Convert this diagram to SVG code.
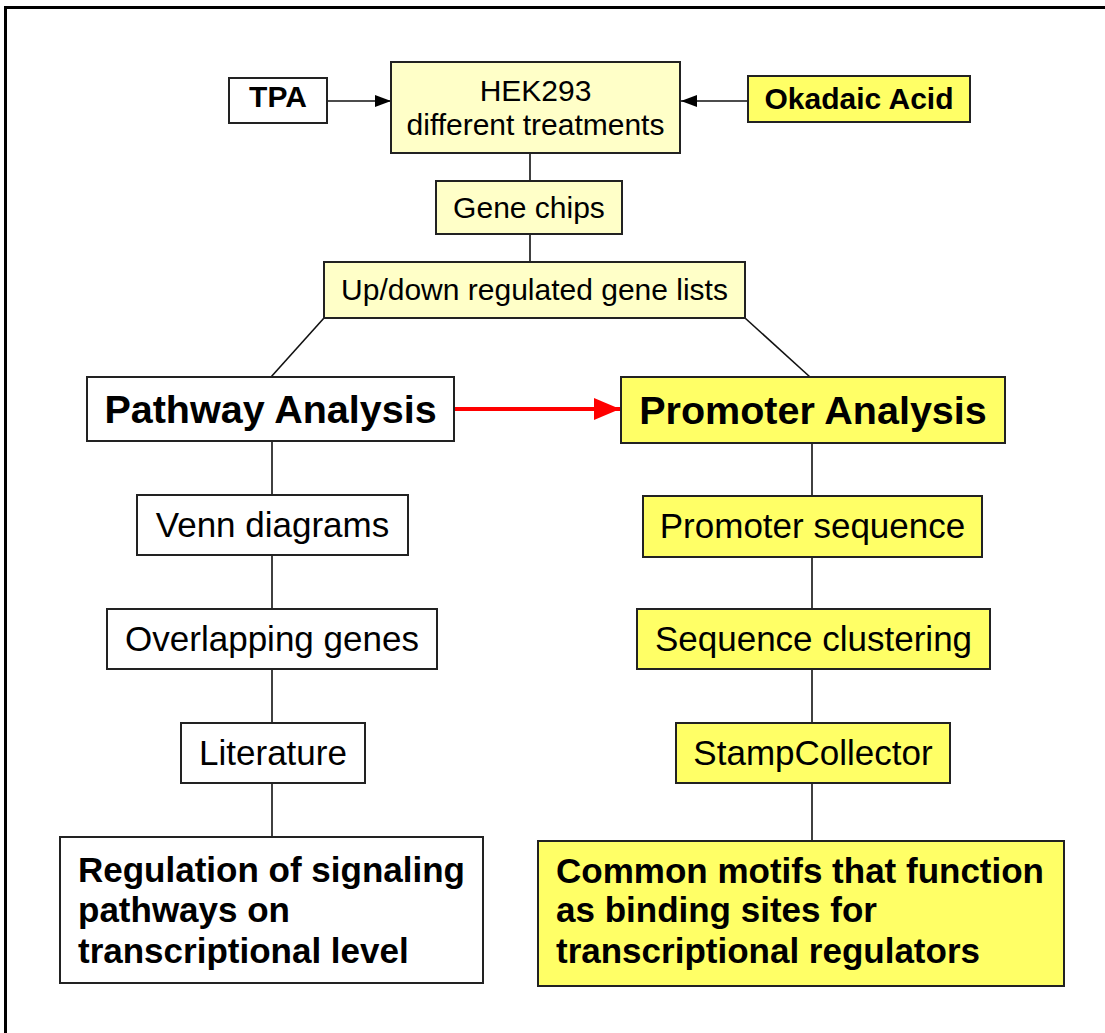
<svg xmlns="http://www.w3.org/2000/svg" width="1105" height="1033" viewBox="0 0 1105 1033">
<defs>
<style>
.box{stroke:#222;stroke-width:2}
.white{fill:#fff}
.pale{fill:#ffffc8}
.yel{fill:#ffff66}
.t{font-family:"Liberation Sans",Arial,sans-serif;fill:#000;text-anchor:middle}
.reg{font-size:30px}
.mid{font-size:35px}
.b{font-weight:bold}
.big{font-size:39.5px;font-weight:bold}
.lt{font-family:"Liberation Sans",Arial,sans-serif;fill:#000;font-size:35px;font-weight:bold}
.ln{stroke:#111;stroke-width:1.6;fill:none}
</style>
<marker id="ah" viewBox="0 0 16 12" refX="16" refY="6" markerWidth="16" markerHeight="12" markerUnits="userSpaceOnUse" orient="auto">
<path d="M0,0 L16,6 L0,12 z" fill="#000"/>
</marker>
<marker id="ahr" viewBox="0 0 26 22" refX="26" refY="11" markerWidth="26" markerHeight="22" markerUnits="userSpaceOnUse" orient="auto">
<path d="M0,0 L26,11 L0,22 z" fill="#f00"/>
</marker>
</defs>
<rect width="1105" height="1033" fill="#fff"/>
<g id="frame">
<line x1="4" y1="7.5" x2="1105" y2="7.5" stroke="#000" stroke-width="3"/>
<line x1="5.5" y1="6" x2="5.5" y2="1033" stroke="#000" stroke-width="3"/>
</g>
<g id="connectors">
<line class="ln" x1="327" y1="101" x2="391" y2="101" marker-end="url(#ah)"/>
<line class="ln" x1="748" y1="101" x2="681" y2="101" marker-end="url(#ah)"/>
<line class="ln" x1="530" y1="153" x2="530" y2="181"/>
<line class="ln" x1="530" y1="234" x2="530" y2="262"/>
<line class="ln" x1="324" y1="318" x2="271" y2="377"/>
<line class="ln" x1="745" y1="318" x2="810" y2="377"/>
<line x1="454" y1="409" x2="620" y2="409" stroke="#f00" stroke-width="4" marker-end="url(#ahr)"/>
<line class="ln" x1="272" y1="441" x2="272" y2="495"/>
<line class="ln" x1="272" y1="555" x2="272" y2="609"/>
<line class="ln" x1="272" y1="669" x2="272" y2="723"/>
<line class="ln" x1="272" y1="783" x2="272" y2="837"/>
<line class="ln" x1="812" y1="443" x2="812" y2="496"/>
<line class="ln" x1="812" y1="557" x2="812" y2="609"/>
<line class="ln" x1="812" y1="669" x2="812" y2="723"/>
<line class="ln" x1="812" y1="783" x2="812" y2="841"/>
</g>
<g id="tpa">
<rect class="box white" x="229" y="78" width="98" height="45"/>
<text class="t reg b" x="278" y="107" font-size="29">TPA</text>
</g>
<g id="hek293">
<rect class="box pale" x="391" y="62" width="289" height="91"/>
<text class="t reg" x="535.5" y="101">HEK293</text>
<text class="t reg" x="535.5" y="135">different treatments</text>
</g>
<g id="okadaic">
<rect class="box yel" x="748" y="76" width="222" height="46"/>
<text class="t reg b" x="859" y="109">Okadaic Acid</text>
</g>
<g id="genechips">
<rect class="box pale" x="436" y="181" width="186" height="53"/>
<text class="t reg" x="529" y="218">Gene chips</text>
</g>
<g id="updown">
<rect class="box pale" x="324" y="262" width="421" height="56"/>
<text class="t reg" x="534.5" y="300">Up/down regulated gene lists</text>
</g>
<g id="pathway">
<rect class="box white" x="87" y="377" width="367" height="64"/>
<text class="t big" x="270.5" y="423">Pathway Analysis</text>
</g>
<g id="promoter">
<rect class="box yel" x="621" y="377" width="384" height="66"/>
<text class="t big" x="813" y="424">Promoter Analysis</text>
</g>
<g id="venn">
<rect class="box white" x="137" y="495" width="271" height="60"/>
<text class="t mid" x="272.5" y="537">Venn diagrams</text>
</g>
<g id="overlapping">
<rect class="box white" x="107" y="609" width="330" height="60"/>
<text class="t mid" x="272" y="651">Overlapping genes</text>
</g>
<g id="literature">
<rect class="box white" x="181" y="723" width="184" height="60"/>
<text class="t mid" x="273" y="765">Literature</text>
</g>
<g id="promseq">
<rect class="box yel" x="643" y="496" width="339" height="61"/>
<text class="t mid" x="812.5" y="538">Promoter sequence</text>
</g>
<g id="seqclust">
<rect class="box yel" x="637" y="609" width="353" height="60"/>
<text class="t mid" x="813.5" y="651">Sequence clustering</text>
</g>
<g id="stamp">
<rect class="box yel" x="676" y="723" width="274" height="60"/>
<text class="t mid" x="813" y="765">StampCollector</text>
</g>
<g id="regulation">
<rect class="box white" x="60" y="837" width="423" height="146"/>
<text class="lt" x="78" y="882">Regulation of signaling</text>
<text class="lt" x="78" y="922">pathways on</text>
<text class="lt" x="78" y="963">transcriptional level</text>
</g>
<g id="motifs">
<rect class="box yel" x="538" y="841" width="526" height="145"/>
<text class="lt" x="556" y="883">Common motifs that function</text>
<text class="lt" x="556" y="922">as binding sites for</text>
<text class="lt" x="556" y="963">transcriptional regulators</text>
</g>
</svg>
